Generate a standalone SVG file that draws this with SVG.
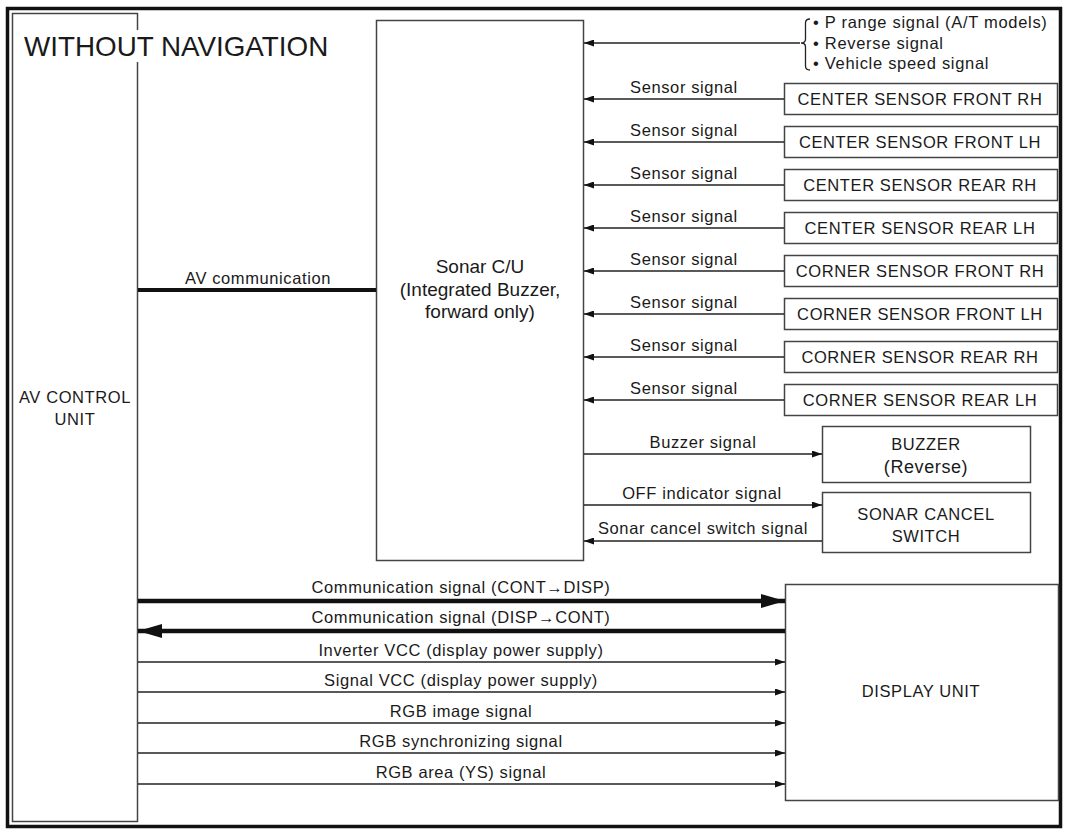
<svg xmlns="http://www.w3.org/2000/svg" width="1067" height="832" viewBox="0 0 1067 832">
<style>
text{font-family:"Liberation Sans",Arial,sans-serif;fill:#1a1a1a}
.lbl{font-size:16.5px;letter-spacing:0.6px;text-anchor:middle}
.box{fill:#fff;stroke:#444;stroke-width:1.5}
.ln{stroke:#222;stroke-width:1.3;fill:none}
.thk{stroke:#111;stroke-width:4.5;fill:none}
.bt{font-size:16.5px;letter-spacing:0.6px;text-anchor:middle}
.bl{font-size:16.5px;letter-spacing:0.7px}
</style>
<defs>
<marker id="a" viewBox="0 0 10 7" refX="10" refY="3.5" markerWidth="10" markerHeight="7" markerUnits="userSpaceOnUse" orient="auto"><path d="M0,0 L10,3.5 L0,7 z" fill="#111"/></marker>
<marker id="A" viewBox="0 0 24 14" refX="24" refY="7" markerWidth="24" markerHeight="14" markerUnits="userSpaceOnUse" orient="auto"><path d="M0,0 L24,7 L0,14 z" fill="#111"/></marker>
</defs>
<rect x="0" y="0" width="1067" height="832" fill="#fff"/>
<rect x="7.5" y="8.5" width="1053" height="818" fill="none" stroke="#111" stroke-width="3.5"/>

<g id="av-control-unit">
<rect class="box" x="12.5" y="13.5" width="125" height="808"/>
<text class="bt" x="75" y="403">AV CONTROL</text>
<text class="bt" x="75" y="425">UNIT</text>
</g>
<g id="title">
<rect x="131" y="30" width="12" height="32" fill="#fff"/>
<text x="24" y="56" style="font-size:27.8px">WITHOUT NAVIGATION</text>
</g>

<g id="sonar-cu">
<rect class="box" x="376.5" y="20.5" width="207" height="540"/>
<text x="480" y="273" style="font-size:19px;text-anchor:middle">Sonar C/U</text>
<text x="480" y="296" style="font-size:19px;text-anchor:middle">(Integrated Buzzer,</text>
<text x="480" y="318" style="font-size:19px;text-anchor:middle">forward only)</text>
</g>

<g id="inputs">
<path class="ln" d="M810,19 Q805.5,19 805.5,23 L805.5,39 Q805.5,43 801,43 Q805.5,43 805.5,47 L805.5,66 Q805.5,70 810,70"/>
<text class="bl" x="813" y="28">• P range signal (A/T models)</text>
<text class="bl" x="813" y="48.5">• Reverse  signal</text>
<text class="bl" x="813" y="69">• Vehicle speed signal</text>
</g>

<g id="sensor-cfrh"><rect class="box" x="784.5" y="83.5" width="273" height="31"/><text class="bt" x="920" y="105">CENTER SENSOR FRONT RH</text></g>
<g id="sensor-cflh"><rect class="box" x="784.5" y="126.5" width="273" height="31"/><text class="bt" x="920" y="148">CENTER SENSOR FRONT LH</text></g>
<g id="sensor-crrh"><rect class="box" x="784.5" y="169.5" width="273" height="31"/><text class="bt" x="920" y="191">CENTER SENSOR REAR RH</text></g>
<g id="sensor-crlh"><rect class="box" x="784.5" y="212.5" width="273" height="31"/><text class="bt" x="920" y="234">CENTER SENSOR REAR LH</text></g>
<g id="sensor-kfrh"><rect class="box" x="784.5" y="255.5" width="273" height="31"/><text class="bt" x="920" y="277">CORNER SENSOR FRONT RH</text></g>
<g id="sensor-kflh"><rect class="box" x="784.5" y="298.5" width="273" height="31"/><text class="bt" x="920" y="320">CORNER SENSOR FRONT LH</text></g>
<g id="sensor-krrh"><rect class="box" x="784.5" y="341.5" width="273" height="31"/><text class="bt" x="920" y="363">CORNER SENSOR REAR RH</text></g>
<g id="sensor-krlh"><rect class="box" x="784.5" y="384.5" width="273" height="31"/><text class="bt" x="920" y="406">CORNER SENSOR REAR LH</text></g>

<g id="buzzer"><rect class="box" x="822.5" y="426.5" width="208" height="56"/><text class="bt" x="926" y="450">BUZZER</text><text class="bt" x="926" y="473" style="font-size:18px">(Reverse)</text></g>
<g id="sonar-cancel-switch"><rect class="box" x="822.5" y="492.5" width="208" height="60"/><text class="bt" x="926" y="520">SONAR CANCEL</text><text class="bt" x="926" y="542">SWITCH</text></g>

<g id="display-unit"><rect class="box" x="785.5" y="584.5" width="273" height="216"/><text class="bt" x="921" y="697">DISPLAY UNIT</text></g>

<g id="connectors">
<line class="ln" x1="800" y1="43" x2="584" y2="43" marker-end="url(#a)"/>
<line class="ln" x1="784" y1="99" x2="584" y2="99" marker-end="url(#a)"/>
<line class="ln" x1="784" y1="142" x2="584" y2="142" marker-end="url(#a)"/>
<line class="ln" x1="784" y1="185" x2="584" y2="185" marker-end="url(#a)"/>
<line class="ln" x1="784" y1="228" x2="584" y2="228" marker-end="url(#a)"/>
<line class="ln" x1="784" y1="271" x2="584" y2="271" marker-end="url(#a)"/>
<line class="ln" x1="784" y1="314" x2="584" y2="314" marker-end="url(#a)"/>
<line class="ln" x1="784" y1="357" x2="584" y2="357" marker-end="url(#a)"/>
<line class="ln" x1="784" y1="400" x2="584" y2="400" marker-end="url(#a)"/>
<text class="lbl" x="684" y="93">Sensor signal</text>
<text class="lbl" x="684" y="136">Sensor signal</text>
<text class="lbl" x="684" y="179">Sensor signal</text>
<text class="lbl" x="684" y="222">Sensor signal</text>
<text class="lbl" x="684" y="265">Sensor signal</text>
<text class="lbl" x="684" y="308">Sensor signal</text>
<text class="lbl" x="684" y="351">Sensor signal</text>
<text class="lbl" x="684" y="394">Sensor signal</text>

<line class="ln" x1="584" y1="454" x2="822" y2="454" marker-end="url(#a)"/>
<text class="lbl" x="703" y="448">Buzzer signal</text>
<line class="ln" x1="584" y1="505" x2="822" y2="505" marker-end="url(#a)"/>
<text class="lbl" x="702" y="499">OFF indicator signal</text>
<line class="ln" x1="822" y1="541" x2="584" y2="541" marker-end="url(#a)"/>
<text class="lbl" x="703" y="534">Sonar cancel switch signal</text>

<line class="thk" x1="138" y1="290" x2="376" y2="290" style="stroke-width:4"/>
<text class="lbl" x="258" y="284">AV communication</text>

<line class="thk" x1="138" y1="601" x2="785" y2="601" marker-end="url(#A)"/>
<text class="lbl" x="461" y="593">Communication signal (CONT→DISP)</text>
<line class="thk" x1="785" y1="631" x2="138" y2="631" marker-end="url(#A)"/>
<text class="lbl" x="461" y="623">Communication signal (DISP→CONT)</text>
<line class="ln" x1="138" y1="662" x2="785" y2="662" marker-end="url(#a)"/>
<text class="lbl" x="461" y="656">Inverter VCC (display power supply)</text>
<line class="ln" x1="138" y1="692" x2="785" y2="692" marker-end="url(#a)"/>
<text class="lbl" x="461" y="686">Signal VCC (display power supply)</text>
<line class="ln" x1="138" y1="723" x2="785" y2="723" marker-end="url(#a)"/>
<text class="lbl" x="461" y="717">RGB image signal</text>
<line class="ln" x1="138" y1="753" x2="785" y2="753" marker-end="url(#a)"/>
<text class="lbl" x="461" y="747">RGB synchronizing signal</text>
<line class="ln" x1="138" y1="784" x2="785" y2="784" marker-end="url(#a)"/>
<text class="lbl" x="461" y="778">RGB area (YS) signal</text>
</g>
</svg>
